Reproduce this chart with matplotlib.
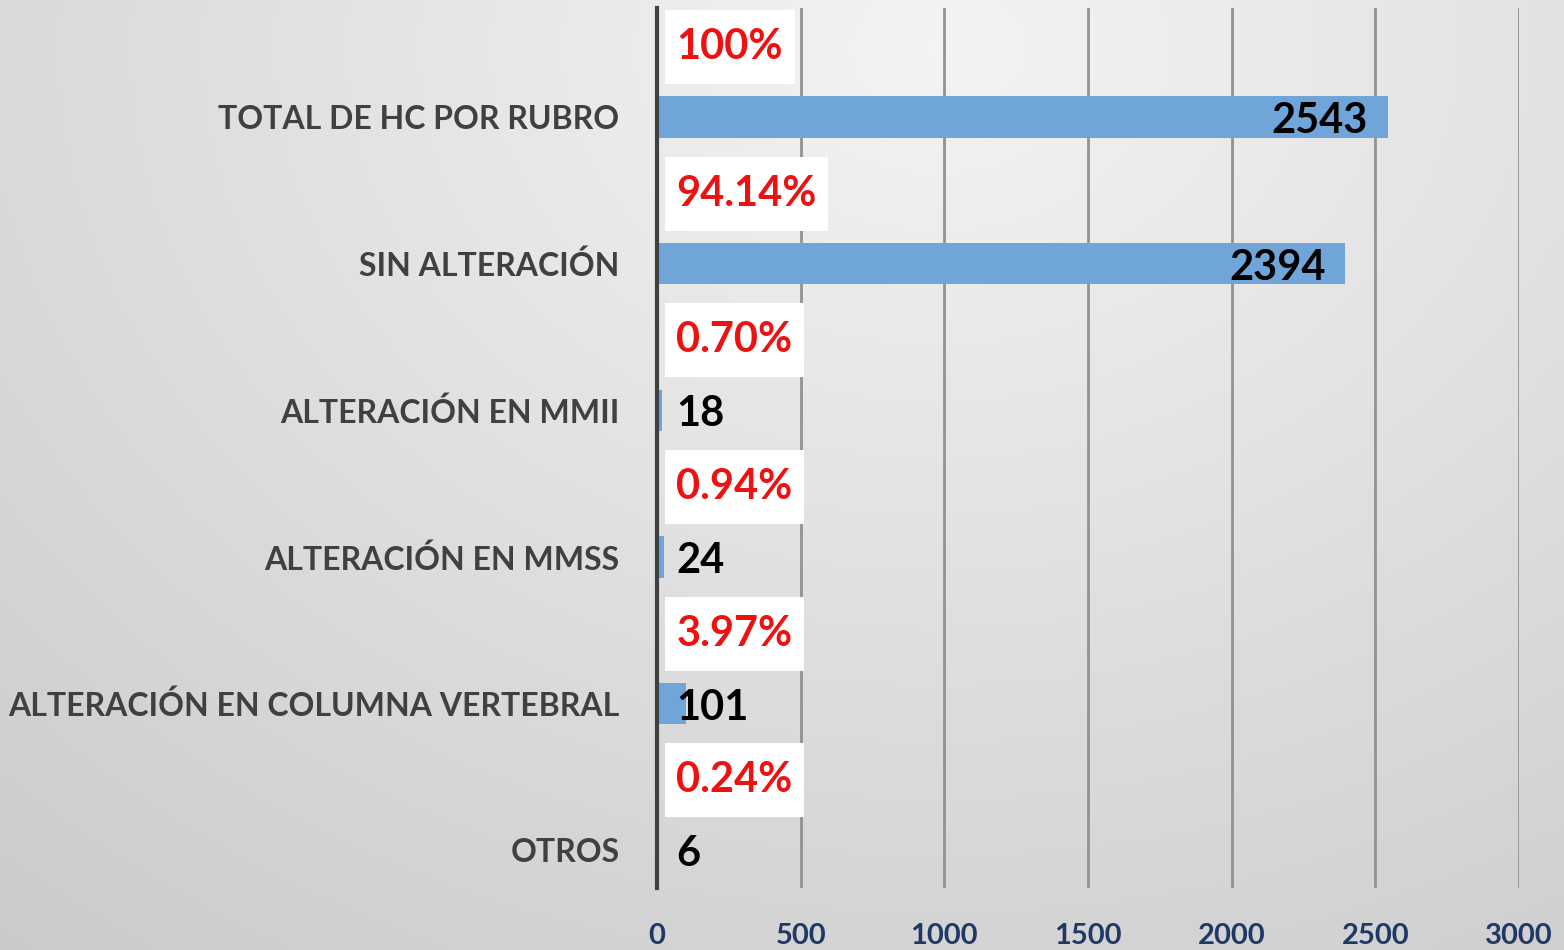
import numpy as np
import matplotlib
matplotlib.use("Agg")
import matplotlib.pyplot as plt
from matplotlib.path import Path

categories = ["TOTAL DE HC POR RUBRO", "SIN ALTERACIÓN", "ALTERACIÓN EN MMII",
              "ALTERACIÓN EN MMSS", "ALTERACIÓN EN COLUMNA VERTEBRAL", "OTROS"]
values = [2543, 2394, 18, 24, 101, 6]
percent_labels = ["100%", "94.14%", "0.70%", "0.94%", "3.97%", "0.24%"]
xticks = [0, 500, 1000, 1500, 2000, 2500, 3000]

plt.rcParams['font.family'] = ['Lato', 'DejaVu Sans']

fig = plt.figure(figsize=(15.64, 9.5), dpi=100)

# background gradient
bg = fig.add_axes([0, 0, 1, 1], zorder=-10)
yy, xx = np.mgrid[0:1:300j, 0:1:500j]
r = np.sqrt(((xx - 0.6) / 1.0) ** 2 + ((yy - 0.05) / 1.3) ** 2)
g = 0.955 - 0.17 * np.clip(r, 0, 1.2)
img = np.dstack([g, g, g])
bg.imshow(img, aspect='auto', extent=[0, 1, 1, 0], interpolation='bicubic')
bg.axis('off')


def label_box(x0, y0, width, height, mutation_size):
    px = 0.28 * mutation_size
    py = 0.43 * mutation_size
    x0, y0 = x0 - px, y0 - py
    x1, y1 = x0 + width + 2 * px, y0 + height + 2 * py
    return Path([(x0, y0), (x1, y0), (x1, y1), (x0, y1), (x0, y0)], closed=True)


ax = fig.add_axes([657/1564, 1 - 888/950, (1519-657)/1564, 880/950])
ax.patch.set_alpha(0)

n = len(categories)
pos = np.arange(n)
bar_off = 0.243
ax.barh(pos + bar_off, values, height=0.28, color='#70a5d9', zorder=3)

ax.set_xlim(0, 3000)
ax.set_ylim(n - 0.5, -0.5)
ax.set_xticks(xticks)
ax.set_xticklabels([str(t) for t in xticks], fontsize=21, fontweight='bold', color='#1f3864')
ax.set_yticks(pos + bar_off)
ax.set_yticklabels(categories, fontsize=23, fontweight='bold', color='#404040')
ax.tick_params(axis='x', length=0, pad=25)
ax.tick_params(axis='y', length=0, pad=27)

for t in xticks[1:]:
    ax.axvline(t, color='#929292', lw=2, zorder=1)
for s in ['top', 'right', 'bottom']:
    ax.spines[s].set_visible(False)
ax.spines['left'].set_color('#404040')
ax.spines['left'].set_linewidth(3)
ax.spines['left'].set_zorder(5)

for i, (v, p) in enumerate(zip(values, percent_labels)):
    if v > 1000:
        ax.annotate(str(v), xy=(v, i + bar_off), xytext=(-14, -3), textcoords='offset points',
                    ha='right', va='center', fontsize=30, fontweight='bold', color='black', zorder=6)
    else:
        ax.annotate(str(v), xy=(0, i + bar_off), xytext=(14, -3), textcoords='offset points',
                    ha='left', va='center', fontsize=30, fontweight='bold', color='black', zorder=6)
    ax.annotate(p, xy=(0, i - bar_off), xytext=(14, -1), textcoords='offset points',
                ha='left', va='center', fontsize=30, fontweight='bold', color='#ee1111', zorder=6,
                bbox=dict(boxstyle=label_box, fc='white', ec='none'))

fig.savefig('out.png', dpi=100)
